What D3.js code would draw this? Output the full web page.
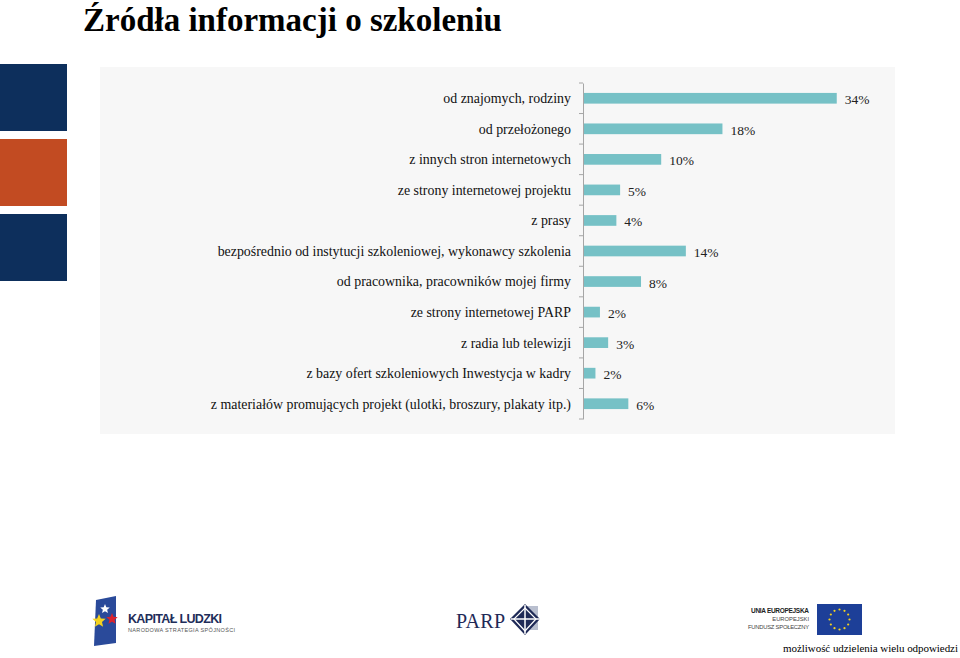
<!DOCTYPE html>
<html><head><meta charset="utf-8">
<script src="https://cdn.jsdelivr.net/npm/d3@7"></script>
<style>body{margin:0;background:#fff}svg{display:block}</style>
</head><body><svg id="c" width="960" height="658"></svg>
<script>
const categories = [
  "od znajomych, rodziny",
  "od przełożonego",
  "z innych stron internetowych",
  "ze strony internetowej projektu",
  "z prasy",
  "bezpośrednio od instytucji szkoleniowej, wykonawcy szkolenia",
  "od pracownika, pracowników mojej firmy",
  "ze strony internetowej PARP",
  "z radia lub telewizji",
  "z bazy ofert szkoleniowych Inwestycja w kadry",
  "z materiałów promujących projekt (ulotki, broszury, plakaty itp.)"
];
const values = [33.9, 18.6, 10.4, 4.9, 4.4, 13.7, 7.7, 2.2, 3.3, 1.6, 6.0];
const valueLabels = ["34%","18%","10%","5%","4%","14%","8%","2%","3%","2%","6%"];
const titleText = "Źródła informacji o szkoleniu";
const noteText = "możliwość udzielenia wielu odpowiedzi";

const svg = d3.select("#c");
const serif = "'Liberation Serif','Times New Roman',serif";
const sans = "'Liberation Sans',Arial,sans-serif";

// side blocks
[["#0d2f5c",64],["#c24b22",139],["#0d2f5c",214]].forEach(([c,y])=>{
  svg.append("rect").attr("x",0).attr("y",y).attr("width",67).attr("height",67).attr("fill",c);
});

// title
svg.append("text").attr("x",83).attr("y",31).attr("font-family",serif)
  .attr("font-weight","bold").attr("font-size",33).attr("fill","#000").text(titleText);

// panel
svg.append("rect").attr("x",100).attr("y",67).attr("width",795).attr("height",367).attr("fill","#f7f7f7");

const x0 = 583.5;
const x = d3.scaleLinear().domain([0,34]).range([x0, x0+254]);
const y = d3.scaleBand().domain(categories).range([83,419]).paddingInner(0.65).paddingOuter(0.325);

const g = svg.append("g");
g.selectAll("rect.bar").data(categories).join("rect").attr("class","bar")
  .attr("x",x(0)).attr("y",d=>y(d)).attr("height",y.bandwidth())
  .attr("width",(d,i)=>x(values[i])-x(0)).attr("fill","#76c1c6");

g.selectAll("text.val").data(categories).join("text").attr("class","val")
  .attr("x",(d,i)=>x(values[i])+8).attr("y",d=>y(d)+y.bandwidth()/2+6)
  .attr("font-family",serif).attr("font-size",13.5).attr("fill","#222")
  .text((d,i)=>valueLabels[i]);

const axis = d3.axisLeft(y).tickSize(0).tickPadding(12);
const ax = svg.append("g").attr("transform",`translate(${x0-0.5},0)`).call(axis);
ax.select(".domain").attr("stroke","#a6a6a6");
ax.selectAll(".tick text").attr("font-family",serif).attr("font-size",13.9).attr("fill","#111")
  .attr("dy","0.35em");
// category boundary ticks
const step = y.step();
const bounds = d3.range(categories.length+1).map(i=>83 + i*step);
svg.append("g").selectAll("line").data(bounds).join("line")
  .attr("x1",x0-4.5).attr("x2",x0-0.5).attr("y1",d=>d).attr("y2",d=>d)
  .attr("stroke","#a6a6a6");

// ---- logos ----
// Kapitał Ludzki
const kl = svg.append("g");
kl.append("path").attr("d","M96,600 L116,596 L116,643 L94,646 Z").attr("fill","#2a4a9a");
function star(cx,cy,r,fill){
  const pts = d3.range(10).map(i=>{const a=-Math.PI/2+i*Math.PI/5; const rr=i%2?r*0.45:r; return [cx+rr*Math.cos(a), cy+rr*Math.sin(a)];});
  kl.append("path").attr("d","M"+pts.join("L")+"Z").attr("fill",fill);
}
star(105,609,5,"#ffffff");
star(99,621,7,"#f4d21f");
star(112,619,6,"#d9232e");
kl.append("text").attr("x",128).attr("y",623).attr("font-family",sans).attr("font-weight","bold")
  .attr("font-size",12.5).attr("fill","#1e2d5a").attr("textLength",94).text("KAPITAŁ LUDZKI");
kl.append("text").attr("x",128).attr("y",632).attr("font-family",sans)
  .attr("font-size",5.5).attr("fill","#555").attr("textLength",107).text("NARODOWA STRATEGIA SPÓJNOŚCI");

// PARP
const pp = svg.append("g");
pp.append("text").attr("x",456).attr("y",628).attr("font-family",serif)
  .attr("font-size",20).attr("fill","#1f2a57").attr("textLength",49).text("PARP");
pp.append("rect").attr("x",524).attr("y",606).attr("width",14).attr("height",24).attr("fill","#b9bfcf");
pp.append("path").attr("d","M525,604 L540,619 L525,635 L510,619 Z").attr("fill","#1f2a57");
pp.append("path").attr("d","M525,608 L536,619 L525,631 L514,619 Z").attr("fill","none").attr("stroke","#fff").attr("stroke-width",1.2);
pp.append("line").attr("x1",511).attr("x2",540).attr("y1",619).attr("y2",619).attr("stroke","#fff").attr("stroke-width",1.5);
pp.append("line").attr("x1",525).attr("x2",525).attr("y1",605).attr("y2",634).attr("stroke","#fff").attr("stroke-width",1.5);

// EU
const eu = svg.append("g");
eu.append("text").attr("x",809).attr("y",613).attr("text-anchor","end").attr("font-family",sans)
  .attr("font-weight","bold").attr("font-size",6.5).attr("fill","#222").attr("textLength",58).text("UNIA EUROPEJSKA");
eu.append("text").attr("x",809).attr("y",621).attr("text-anchor","end").attr("font-family",sans)
  .attr("font-size",5.8).attr("fill","#444").text("EUROPEJSKI");
eu.append("text").attr("x",809).attr("y",629).attr("text-anchor","end").attr("font-family",sans)
  .attr("font-size",5.8).attr("fill","#444").attr("textLength",61).text("FUNDUSZ SPOŁECZNY");
eu.append("rect").attr("x",817).attr("y",604).attr("width",45).attr("height",31).attr("fill","#1d3f98");
d3.range(12).forEach(i=>{
  const a = i*Math.PI/6;
  eu.append("circle").attr("cx",839.5+10*Math.cos(a)).attr("cy",619.5+10*Math.sin(a)).attr("r",1.1).attr("fill","#f4d21f");
});

// note
svg.append("text").attr("x",958).attr("y",652).attr("text-anchor","end").attr("font-family",serif)
  .attr("font-size",11).attr("fill","#000").attr("textLength",175).text(noteText);
</script></body></html>
